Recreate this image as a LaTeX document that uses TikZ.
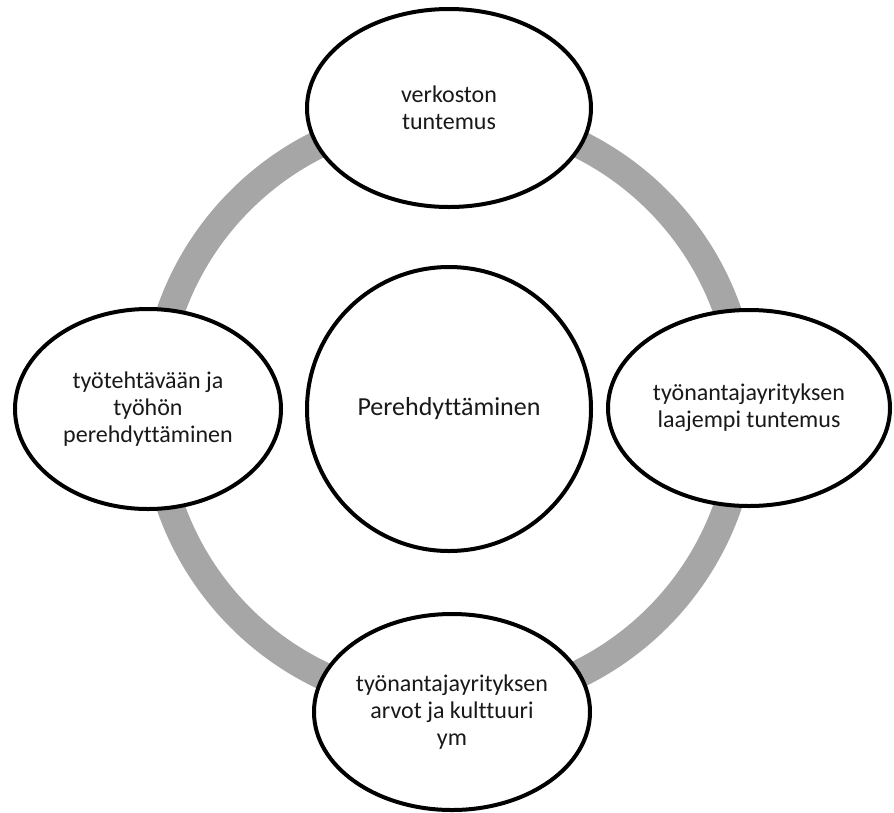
\documentclass[tikz,border=0pt]{standalone}
\usepackage{fontspec}
\setmainfont{Carlito}[Ligatures=CommonOff]
\usetikzlibrary{shapes.geometric}
\definecolor{ringgray}{RGB}{166,166,166}
\begin{document}
\begin{tikzpicture}[x=1pt,y=-1pt,
  bubble/.style={ellipse, draw=black, line width=4pt, fill=white, inner sep=0pt,
    align=center, text=black!90, font=\fontsize{24}{27}\selectfont},
  hub/.style={circle, draw=black, line width=4pt, fill=white, inner sep=0pt,
    minimum size=284pt, text=black!90, font=\fontsize{26}{30}\selectfont},
  ringline/.style={draw=ringgray, line width=28pt}]
\useasboundingbox (0,0) rectangle (894,812);
\node[hub] (c) at (449,409) {Perehdyttäminen};
\path[ringline] (c.center) circle[radius=295pt];
\node[bubble, minimum width=284pt, minimum height=198pt] (top) at (449,108) {verkoston\\tuntemus};
\node[bubble, minimum width=266pt, minimum height=200pt] (left) at (148,409) {työtehtävään ja\\työhön\\perehdyttäminen};
\node[bubble, minimum width=282pt, minimum height=196pt] (right) at (749,408) {työnantajayrityksen\\laajempi tuntemus};
\node[bubble, minimum width=276pt, minimum height=196pt] (bottom) at (452,712) {työnantajayrityksen\\arvot ja kulttuuri\\ym};
\end{tikzpicture}
\end{document}
